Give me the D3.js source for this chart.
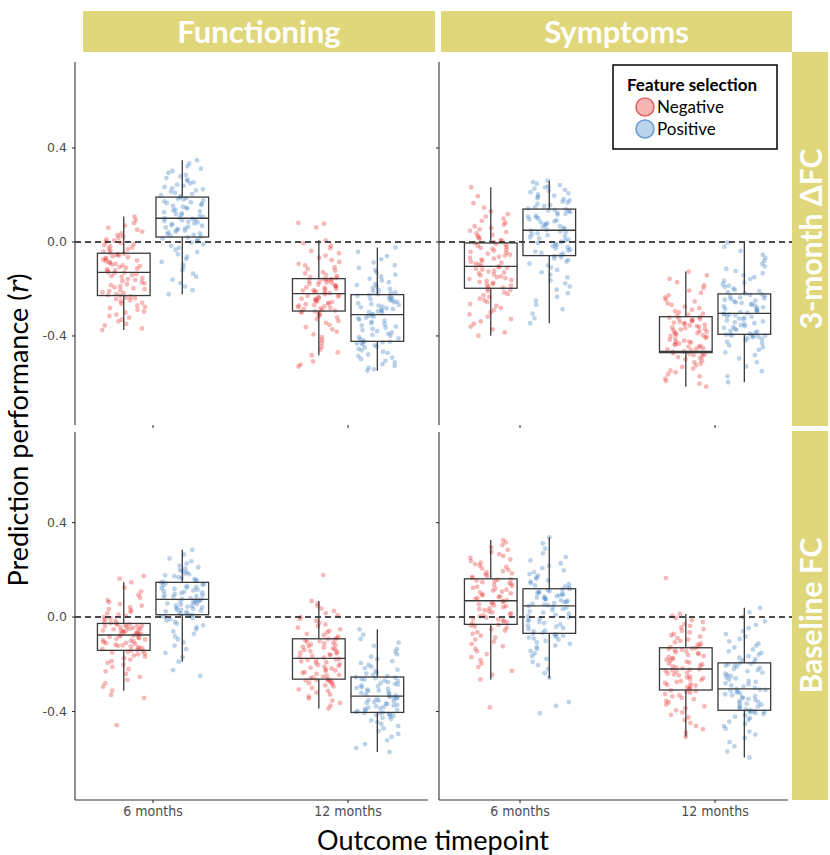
<!DOCTYPE html>
<html>
<head>
<meta charset="utf-8">
<script src="https://cdn.jsdelivr.net/npm/d3@7"></script>
<style>
  body { margin: 0; background: #fff; }
  svg { display: block; }
</style>
</head>
<body>
<svg id="chart" width="830" height="855"></svg>
<script>
// Facets, categories and ticks
const outcomes = ["Functioning", "Symptoms"];
const fcTypes = ["3-month ΔFC", "Baseline FC"];
const timepoints = ["6 months", "12 months"];
const selections = ["Negative", "Positive"];
const yTicks = [-0.4, 0.0, 0.4];

// Box statistics, one entry per group, ordered fcType > outcome > timepoint > selection
const boxLower  = [-0.375, -0.223, -0.482, -0.548,  -0.399, -0.346, -0.616, -0.597,
                   -0.312, -0.189, -0.387, -0.572,  -0.264, -0.258, -0.507, -0.595];
const boxQ1     = [-0.228,  0.021, -0.294, -0.423,  -0.197, -0.058, -0.471, -0.393,
                   -0.141,  0.010, -0.263, -0.404,  -0.031, -0.069, -0.309, -0.395];
const boxMedian = [-0.129,  0.101, -0.220, -0.309,  -0.104,  0.050, -0.466, -0.304,
                   -0.076,  0.075, -0.175, -0.335,   0.069,  0.047, -0.220, -0.304];
const boxQ3     = [-0.048,  0.191, -0.156, -0.224,  -0.004,  0.140, -0.318, -0.221,
                   -0.027,  0.147, -0.092, -0.254,   0.162,  0.120, -0.130, -0.194];
const boxUpper  = [ 0.108,  0.348,  0.007, -0.023,   0.233,  0.261, -0.126, -0.003,
                    0.147,  0.285,  0.068, -0.052,   0.326,  0.338,  0.013,  0.039];

// Per-iteration prediction performance (r)
const chgFun6Neg = [-0.375,-0.368,-0.355,-0.349,-0.338,-0.331,-0.322,-0.315,-0.309,-0.301,-0.296,-0.288,-0.281,-0.276,-0.27,-0.263,-0.259,-0.252,-0.248,-0.243,-0.239,-0.236,-0.232,-0.229,
  -0.226,-0.222,-0.218,-0.214,-0.209,-0.205,-0.201,-0.197,-0.193,-0.188,-0.184,-0.18,-0.176,-0.171,-0.167,-0.162,-0.158,-0.154,-0.149,-0.145,-0.141,-0.137,-0.133,-0.13,
  -0.128,-0.124,-0.121,-0.117,-0.114,-0.11,-0.107,-0.103,-0.1,-0.096,-0.093,-0.089,-0.086,-0.082,-0.079,-0.075,-0.072,-0.068,-0.065,-0.061,-0.058,-0.055,-0.052,-0.049,
  -0.046,-0.041,-0.037,-0.032,-0.028,-0.023,-0.018,-0.013,-0.009,-0.004,0.001,0.006,0.011,0.017,0.023,0.029,0.036,0.044,0.052,0.061,0.07,0.08,0.094,0.108];
const chgFun6Pos = [-0.223,-0.205,-0.19,-0.175,-0.16,-0.148,-0.135,-0.12,-0.108,-0.095,-0.085,-0.073,-0.062,-0.052,-0.043,-0.034,-0.025,-0.017,-0.01,-0.003,0.004,0.01,0.015,0.019,
  0.023,0.027,0.03,0.034,0.037,0.041,0.044,0.048,0.051,0.055,0.058,0.062,0.065,0.069,0.072,0.076,0.079,0.083,0.086,0.089,0.092,0.095,0.098,0.1,
  0.103,0.107,0.111,0.115,0.119,0.122,0.126,0.13,0.134,0.138,0.142,0.146,0.15,0.154,0.158,0.162,0.165,0.169,0.173,0.177,0.181,0.184,0.187,0.19,
  0.194,0.199,0.204,0.209,0.214,0.219,0.224,0.229,0.234,0.239,0.244,0.249,0.254,0.26,0.266,0.272,0.279,0.286,0.294,0.302,0.312,0.322,0.334,0.348];
const chgFun12Neg = [-0.53,-0.522,-0.508,-0.482,-0.47,-0.458,-0.445,-0.43,-0.418,-0.405,-0.393,-0.382,-0.372,-0.362,-0.353,-0.344,-0.336,-0.328,-0.321,-0.315,-0.309,-0.304,-0.3,-0.297,-0.295,
  -0.292,-0.289,-0.286,-0.283,-0.28,-0.277,-0.274,-0.271,-0.268,-0.265,-0.262,-0.259,-0.256,-0.253,-0.25,-0.247,-0.244,-0.241,-0.238,-0.235,-0.232,-0.229,-0.226,-0.222,
  -0.218,-0.215,-0.213,-0.21,-0.207,-0.205,-0.202,-0.199,-0.196,-0.193,-0.19,-0.187,-0.184,-0.181,-0.178,-0.175,-0.172,-0.169,-0.166,-0.163,-0.161,-0.159,-0.158,-0.157,
  -0.154,-0.15,-0.145,-0.14,-0.134,-0.128,-0.122,-0.115,-0.108,-0.1,-0.093,-0.085,-0.077,-0.068,-0.058,-0.048,-0.038,-0.027,-0.016,-0.005,0.007,0.062,0.078,0.081];
const chgFun12Pos = [-0.548,-0.542,-0.535,-0.528,-0.52,-0.513,-0.506,-0.499,-0.492,-0.486,-0.479,-0.473,-0.467,-0.461,-0.455,-0.45,-0.445,-0.44,-0.436,-0.432,-0.429,-0.427,-0.425,-0.424,
  -0.42,-0.415,-0.41,-0.405,-0.4,-0.395,-0.39,-0.385,-0.38,-0.375,-0.37,-0.365,-0.36,-0.355,-0.35,-0.345,-0.34,-0.335,-0.33,-0.326,-0.322,-0.318,-0.314,-0.311,
  -0.307,-0.303,-0.299,-0.296,-0.292,-0.289,-0.285,-0.282,-0.278,-0.275,-0.271,-0.268,-0.264,-0.261,-0.257,-0.254,-0.25,-0.247,-0.243,-0.24,-0.236,-0.232,-0.229,-0.226,
  -0.222,-0.218,-0.214,-0.21,-0.205,-0.2,-0.195,-0.19,-0.184,-0.178,-0.171,-0.164,-0.156,-0.148,-0.139,-0.13,-0.12,-0.11,-0.099,-0.087,-0.074,-0.06,-0.042,-0.023];
const chgSym6Neg = [-0.399,-0.385,-0.372,-0.36,-0.349,-0.338,-0.328,-0.318,-0.308,-0.299,-0.29,-0.281,-0.272,-0.264,-0.256,-0.248,-0.241,-0.234,-0.227,-0.221,-0.215,-0.209,-0.204,-0.199,
  -0.194,-0.19,-0.186,-0.182,-0.178,-0.174,-0.17,-0.166,-0.162,-0.158,-0.154,-0.15,-0.146,-0.142,-0.138,-0.134,-0.13,-0.126,-0.122,-0.118,-0.114,-0.11,-0.107,-0.105,
  -0.1,-0.096,-0.092,-0.088,-0.084,-0.08,-0.075,-0.071,-0.067,-0.063,-0.058,-0.054,-0.05,-0.046,-0.042,-0.037,-0.033,-0.029,-0.025,-0.021,-0.016,-0.012,-0.008,-0.005,
  -0.001,0.004,0.009,0.014,0.019,0.024,0.03,0.036,0.042,0.048,0.054,0.06,0.067,0.074,0.082,0.09,0.099,0.108,0.118,0.13,0.146,0.165,0.195,0.233];
const chgSym6Pos = [-0.346,-0.325,-0.305,-0.286,-0.268,-0.25,-0.234,-0.218,-0.203,-0.189,-0.176,-0.163,-0.151,-0.14,-0.129,-0.119,-0.109,-0.1,-0.092,-0.084,-0.077,-0.07,-0.065,-0.06,
  -0.055,-0.05,-0.046,-0.041,-0.036,-0.032,-0.027,-0.022,-0.018,-0.013,-0.008,-0.004,0.001,0.006,0.01,0.015,0.02,0.024,0.029,0.033,0.037,0.041,0.045,0.048,
  0.052,0.056,0.06,0.064,0.068,0.072,0.076,0.08,0.084,0.088,0.092,0.096,0.1,0.104,0.108,0.112,0.116,0.12,0.124,0.128,0.131,0.134,0.137,0.139,
  0.142,0.147,0.152,0.157,0.162,0.167,0.172,0.177,0.182,0.187,0.192,0.197,0.202,0.207,0.212,0.217,0.222,0.227,0.232,0.237,0.242,0.248,0.255,0.261];
const chgSym12Neg = [-0.616,-0.603,-0.592,-0.582,-0.572,-0.563,-0.555,-0.547,-0.539,-0.532,-0.525,-0.518,-0.512,-0.506,-0.5,-0.495,-0.49,-0.486,-0.482,-0.479,-0.476,-0.474,-0.473,
  -0.468,-0.462,-0.457,-0.452,-0.447,-0.442,-0.437,-0.433,-0.428,-0.424,-0.42,-0.416,-0.412,-0.408,-0.404,-0.4,-0.397,-0.394,-0.391,-0.388,-0.385,-0.382,-0.379,-0.376,
  -0.373,-0.37,-0.367,-0.364,-0.361,-0.358,-0.355,-0.352,-0.349,-0.346,-0.343,-0.34,-0.337,-0.334,-0.331,-0.328,-0.325,-0.322,-0.32,-0.466,-0.455,-0.445,-0.435,-0.425,
  -0.315,-0.31,-0.305,-0.3,-0.294,-0.288,-0.282,-0.275,-0.268,-0.261,-0.253,-0.245,-0.236,-0.227,-0.217,-0.207,-0.196,-0.184,-0.171,-0.157,-0.142,-0.126];
const chgSym12Pos = [-0.597,-0.572,-0.55,-0.53,-0.512,-0.496,-0.482,-0.47,-0.459,-0.449,-0.44,-0.432,-0.425,-0.419,-0.414,-0.41,-0.406,-0.403,-0.4,-0.398,-0.397,-0.396,-0.395,-0.394,
  -0.39,-0.386,-0.382,-0.378,-0.374,-0.37,-0.366,-0.362,-0.358,-0.354,-0.35,-0.346,-0.342,-0.338,-0.334,-0.33,-0.326,-0.322,-0.318,-0.315,-0.312,-0.309,-0.307,-0.305,
  -0.302,-0.299,-0.295,-0.292,-0.288,-0.285,-0.281,-0.278,-0.274,-0.271,-0.267,-0.264,-0.26,-0.257,-0.253,-0.25,-0.246,-0.243,-0.239,-0.236,-0.232,-0.229,-0.226,-0.223,
  -0.219,-0.214,-0.209,-0.204,-0.198,-0.192,-0.186,-0.18,-0.173,-0.166,-0.158,-0.15,-0.142,-0.133,-0.124,-0.114,-0.104,-0.093,-0.081,-0.068,-0.054,-0.038,-0.02,-0.003];
const baseFun6Neg = [-0.458,-0.342,-0.33,-0.312,-0.295,-0.28,-0.266,-0.253,-0.241,-0.23,-0.22,-0.211,-0.202,-0.194,-0.187,-0.18,-0.174,-0.168,-0.163,-0.158,-0.154,-0.15,-0.147,-0.144,-0.142,
  -0.139,-0.136,-0.133,-0.131,-0.128,-0.125,-0.122,-0.12,-0.117,-0.114,-0.111,-0.109,-0.106,-0.103,-0.1,-0.098,-0.095,-0.092,-0.089,-0.087,-0.084,-0.081,-0.079,-0.077,
  -0.074,-0.072,-0.07,-0.068,-0.066,-0.064,-0.062,-0.06,-0.058,-0.056,-0.054,-0.052,-0.05,-0.048,-0.046,-0.044,-0.042,-0.04,-0.038,-0.036,-0.034,-0.032,-0.03,-0.028,
  -0.025,-0.02,-0.015,-0.01,-0.005,0.0,0.005,0.01,0.016,0.022,0.028,0.034,0.041,0.048,0.055,0.063,0.072,0.082,0.094,0.108,0.125,0.147,0.163,0.174];
const baseFun6Pos = [-0.249,-0.225,-0.189,-0.17,-0.152,-0.136,-0.121,-0.107,-0.094,-0.082,-0.071,-0.061,-0.052,-0.043,-0.035,-0.028,-0.021,-0.015,-0.009,-0.004,0.0,0.004,0.007,0.009,
  0.012,0.015,0.018,0.021,0.024,0.027,0.029,0.032,0.035,0.038,0.041,0.044,0.046,0.049,0.052,0.055,0.058,0.061,0.063,0.066,0.068,0.07,0.072,0.074,
  0.077,0.08,0.083,0.086,0.089,0.092,0.095,0.098,0.101,0.104,0.107,0.11,0.113,0.116,0.119,0.122,0.125,0.128,0.131,0.134,0.137,0.14,0.143,0.146,
  0.149,0.153,0.157,0.161,0.165,0.169,0.173,0.177,0.181,0.185,0.19,0.195,0.2,0.205,0.211,0.218,0.226,0.236,0.248,0.265,0.285];
const baseFun12Neg = [-0.387,-0.375,-0.364,-0.354,-0.345,-0.336,-0.328,-0.32,-0.313,-0.306,-0.3,-0.294,-0.289,-0.284,-0.28,-0.276,-0.273,-0.27,-0.268,-0.266,-0.265,-0.264,
  -0.26,-0.256,-0.252,-0.248,-0.245,-0.241,-0.237,-0.233,-0.229,-0.226,-0.222,-0.218,-0.214,-0.21,-0.207,-0.203,-0.199,-0.195,-0.191,-0.188,-0.184,-0.181,-0.179,-0.177,
  -0.172,-0.168,-0.165,-0.161,-0.158,-0.154,-0.151,-0.147,-0.144,-0.14,-0.137,-0.133,-0.13,-0.126,-0.123,-0.119,-0.116,-0.112,-0.109,-0.105,-0.102,-0.098,-0.095,-0.093,
  -0.088,-0.083,-0.077,-0.071,-0.065,-0.059,-0.052,-0.045,-0.038,-0.031,-0.024,-0.016,-0.008,0.0,0.008,0.017,0.026,0.036,0.046,0.057,0.068,0.178];
const baseFun12Pos = [-0.572,-0.555,-0.538,-0.522,-0.508,-0.495,-0.483,-0.472,-0.462,-0.453,-0.445,-0.438,-0.432,-0.427,-0.422,-0.418,-0.415,-0.412,-0.41,-0.408,-0.406,-0.405,
  -0.402,-0.399,-0.396,-0.393,-0.39,-0.387,-0.384,-0.381,-0.378,-0.375,-0.372,-0.369,-0.366,-0.363,-0.36,-0.357,-0.354,-0.351,-0.348,-0.345,-0.342,-0.34,-0.338,-0.336,
  -0.332,-0.328,-0.325,-0.321,-0.318,-0.314,-0.311,-0.307,-0.304,-0.3,-0.297,-0.293,-0.29,-0.286,-0.283,-0.279,-0.276,-0.272,-0.269,-0.265,-0.262,-0.259,-0.257,-0.255,
  -0.25,-0.245,-0.24,-0.235,-0.229,-0.223,-0.217,-0.21,-0.203,-0.195,-0.187,-0.178,-0.168,-0.158,-0.147,-0.135,-0.122,-0.108,-0.093,-0.074,-0.052];
const baseSym6Neg = [-0.383,-0.264,-0.245,-0.228,-0.212,-0.197,-0.183,-0.17,-0.157,-0.145,-0.134,-0.124,-0.114,-0.104,-0.095,-0.087,-0.079,-0.071,-0.064,-0.057,-0.051,-0.045,-0.04,-0.036,-0.033,
  -0.027,-0.023,-0.019,-0.014,-0.01,-0.006,-0.002,0.003,0.007,0.011,0.016,0.02,0.024,0.029,0.033,0.037,0.042,0.046,0.05,0.054,0.058,0.062,0.065,0.067,
  0.072,0.076,0.08,0.084,0.088,0.092,0.096,0.1,0.104,0.108,0.112,0.116,0.12,0.124,0.128,0.132,0.136,0.14,0.144,0.148,0.152,0.155,0.158,0.16,
  0.165,0.17,0.175,0.18,0.185,0.19,0.195,0.2,0.206,0.212,0.218,0.224,0.23,0.237,0.244,0.251,0.259,0.267,0.276,0.285,0.295,0.305,0.316,0.326];
const baseSym6Pos = [-0.407,-0.376,-0.36,-0.258,-0.238,-0.22,-0.204,-0.19,-0.177,-0.165,-0.154,-0.144,-0.135,-0.127,-0.12,-0.113,-0.107,-0.101,-0.096,-0.091,-0.087,-0.083,-0.079,-0.076,-0.073,-0.071,
  -0.066,-0.061,-0.056,-0.051,-0.046,-0.041,-0.036,-0.031,-0.026,-0.021,-0.016,-0.011,-0.006,-0.001,0.004,0.009,0.014,0.019,0.024,0.029,0.034,0.039,0.043,0.046,
  0.05,0.053,0.056,0.059,0.062,0.065,0.068,0.071,0.074,0.077,0.08,0.083,0.086,0.089,0.092,0.095,0.098,0.101,0.104,0.107,0.11,0.113,0.116,0.119,
  0.124,0.129,0.134,0.139,0.144,0.15,0.156,0.162,0.168,0.175,0.182,0.19,0.198,0.207,0.217,0.228,0.24,0.254,0.27,0.29,0.312,0.338];
const baseSym12Neg = [-0.507,-0.49,-0.475,-0.461,-0.448,-0.436,-0.425,-0.414,-0.404,-0.395,-0.386,-0.378,-0.37,-0.362,-0.355,-0.348,-0.342,-0.336,-0.331,-0.326,-0.321,-0.317,-0.313,-0.311,
  -0.306,-0.302,-0.298,-0.294,-0.29,-0.287,-0.283,-0.279,-0.275,-0.271,-0.267,-0.263,-0.259,-0.255,-0.251,-0.247,-0.243,-0.239,-0.235,-0.231,-0.228,-0.225,-0.223,-0.221,
  -0.217,-0.213,-0.209,-0.205,-0.201,-0.197,-0.193,-0.189,-0.185,-0.181,-0.177,-0.173,-0.169,-0.165,-0.161,-0.157,-0.153,-0.149,-0.145,-0.141,-0.138,-0.135,-0.133,-0.131,
  -0.127,-0.122,-0.117,-0.112,-0.107,-0.101,-0.095,-0.089,-0.083,-0.077,-0.071,-0.065,-0.058,-0.051,-0.044,-0.037,-0.029,-0.021,-0.013,-0.004,0.005,0.013,0.165];
const baseSym12Pos = [-0.595,-0.57,-0.548,-0.53,-0.513,-0.498,-0.485,-0.473,-0.462,-0.452,-0.443,-0.435,-0.428,-0.422,-0.416,-0.411,-0.407,-0.404,-0.401,-0.399,-0.397,-0.396,
  -0.391,-0.387,-0.383,-0.379,-0.375,-0.371,-0.367,-0.363,-0.359,-0.355,-0.351,-0.347,-0.343,-0.339,-0.335,-0.331,-0.327,-0.323,-0.319,-0.315,-0.312,-0.309,-0.307,-0.305,
  -0.3,-0.295,-0.29,-0.285,-0.28,-0.275,-0.27,-0.265,-0.26,-0.255,-0.25,-0.245,-0.24,-0.235,-0.23,-0.225,-0.22,-0.215,-0.21,-0.206,-0.202,-0.199,-0.197,-0.195,
  -0.19,-0.184,-0.178,-0.172,-0.166,-0.159,-0.152,-0.145,-0.137,-0.129,-0.121,-0.112,-0.103,-0.093,-0.083,-0.072,-0.06,-0.047,-0.033,-0.018,0.0,0.02,0.039];

const groupValues = [
  chgFun6Neg, chgFun6Pos, chgFun12Neg, chgFun12Pos,
  chgSym6Neg, chgSym6Pos, chgSym12Neg, chgSym12Pos,
  baseFun6Neg, baseFun6Pos, baseFun12Neg, baseFun12Pos,
  baseSym6Neg, baseSym6Pos, baseSym12Neg, baseSym12Pos
];

// ---------- layout ----------
const svg = d3.select("#chart");
const stripColor = "#dfd77a";
const pointColor = d3.scaleOrdinal().domain(selections).range(["#e8302f", "#3f7fc0"]);
const legendFill = { Negative: "#f5b5b5", Positive: "#bed4ea" };
const legendStroke = { Negative: "#e46565", Positive: "#6b9fd1" };

const colRange = [[75, 430], [442, 797]];   // x pixel range for each column's scale
const colAxisX = [75, 439];
const colRight = [432, 792];
const rowRange = [[62, 425], [432, 800]];
const rowDomain = [[-0.779, 0.766], [-0.775, 0.784]];

const tpScale = d3.scalePoint().domain(timepoints).range([1, 2]);
const dodge = d3.scaleOrdinal().domain(selections).range([-0.15, 0.15]);
const boxHalf = 0.135, jitterHalf = 0.11;

// horizontal jitter: deterministic scatter in [-0.5, 0.5) for point i of group g
const jitter = (i, g) => {
  const s = Math.sin(i * 12.9898 + g * 78.233) * 43758.5453;
  return s - Math.floor(s) - 0.5;
};

const fmt = v => d3.format(".1f")(v).replace("−", "-");

// strips along the top
outcomes.forEach((o, c) => {
  const x0 = c === 0 ? 83 : 441, x1 = c === 0 ? 435 : 792;
  svg.append("rect").attr("x", x0).attr("y", 11).attr("width", x1 - x0).attr("height", 41).attr("fill", stripColor);
  svg.append("text").attr("x", (x0 + x1) / 2).attr("y", 32).attr("dy", "0.36em")
    .attr("text-anchor", "middle").attr("fill", "#fff")
    .style("font", "bold 31px Lato, 'Open Sans', sans-serif").text(o);
});
// strips along the right
fcTypes.forEach((f, r) => {
  const y0 = r === 0 ? 52 : 431, y1 = r === 0 ? 426 : 800;
  svg.append("rect").attr("x", 792).attr("y", y0).attr("width", 36).attr("height", y1 - y0).attr("fill", stripColor);
  svg.append("text").attr("transform", `translate(811,${(y0 + y1) / 2}) rotate(-90)`)
    .attr("dy", "0.36em").attr("text-anchor", "middle").attr("fill", "#fff")
    .style("font", "bold 30px Lato, 'Open Sans', sans-serif").text(f);
});

fcTypes.forEach((f, r) => {
  const y = d3.scaleLinear().domain(rowDomain[r]).range([rowRange[r][1], rowRange[r][0]]);
  outcomes.forEach((o, c) => {
    const x = d3.scaleLinear().domain([0.6, 2.42]).range(colRange[c]);
    const g = svg.append("g");

    // points
    timepoints.forEach((t, ti) => {
      selections.forEach((s, si) => {
        const gi = r * 8 + c * 4 + ti * 2 + si;
        const cx = tpScale(t) + dodge(s);
        g.append("g").selectAll("circle").data(groupValues[gi]).join("circle")
          .attr("cx", (d, i) => x(cx + jitterHalf * 2 * jitter(i, gi)))
          .attr("cy", d => y(d))
          .attr("r", 2.4)
          .attr("fill", pointColor(s))
          .attr("fill-opacity", 0.34);
      });
    });

    // reference line at r = 0
    g.append("line").attr("x1", colAxisX[c]).attr("x2", colRight[c])
      .attr("y1", y(0)).attr("y2", y(0))
      .attr("stroke", "#111").attr("stroke-width", 1.4).attr("stroke-dasharray", "6,4");

    // boxes
    timepoints.forEach((t, ti) => {
      selections.forEach((s, si) => {
        const gi = r * 8 + c * 4 + ti * 2 + si;
        const cx = tpScale(t) + dodge(s);
        const bx = x(cx - boxHalf), bw = x(cx + boxHalf) - x(cx - boxHalf);
        const bg = g.append("g").attr("stroke", "#3a3a3a").attr("stroke-width", 1.3).attr("fill", "none");
        bg.append("line").attr("x1", x(cx)).attr("x2", x(cx)).attr("y1", y(boxUpper[gi])).attr("y2", y(boxQ3[gi]));
        bg.append("line").attr("x1", x(cx)).attr("x2", x(cx)).attr("y1", y(boxQ1[gi])).attr("y2", y(boxLower[gi]));
        bg.append("rect").attr("x", bx).attr("width", bw)
          .attr("y", y(boxQ3[gi])).attr("height", y(boxQ1[gi]) - y(boxQ3[gi]));
        bg.append("line").attr("x1", bx).attr("x2", bx + bw).attr("y1", y(boxMedian[gi])).attr("y2", y(boxMedian[gi]));
      });
    });

    // y axis
    g.append("line").attr("x1", colAxisX[c]).attr("x2", colAxisX[c])
      .attr("y1", rowRange[r][0]).attr("y2", rowRange[r][1]).attr("stroke", "#333").attr("stroke-width", 1.1);
    yTicks.forEach(v => {
      g.append("line").attr("x1", colAxisX[c] - 3).attr("x2", colAxisX[c])
        .attr("y1", y(v)).attr("y2", y(v)).attr("stroke", "#333").attr("stroke-width", 1.1);
      if (c === 0) {
        g.append("text").attr("x", colAxisX[c] - 8).attr("y", y(v)).attr("dy", "0.35em")
          .attr("text-anchor", "end").attr("fill", "#4d4d4d")
          .style("font", "12.5px 'DejaVu Sans', sans-serif").text(fmt(v));
      }
    });

    // x axis
    if (r === 1) {
      g.append("line").attr("x1", colAxisX[c]).attr("x2", colRight[c] - 4)
        .attr("y1", rowRange[r][1]).attr("y2", rowRange[r][1]).attr("stroke", "#333").attr("stroke-width", 1.1);
    }
    timepoints.forEach(t => {
      g.append("line").attr("x1", x(tpScale(t))).attr("x2", x(tpScale(t)))
        .attr("y1", rowRange[r][1]).attr("y2", rowRange[r][1] + 3).attr("stroke", "#333").attr("stroke-width", 1.1);
      if (r === 1) {
        g.append("text").attr("x", x(tpScale(t))).attr("y", rowRange[r][1] + 11).attr("dy", "0.35em")
          .attr("text-anchor", "middle").attr("fill", "#4d4d4d")
          .style("font", "14px 'DejaVu Sans Condensed', 'DejaVu Sans', sans-serif").text(t);
      }
    });
  });
});

// axis titles
svg.append("text").attr("x", 433).attr("y", 841).attr("dy", "0.35em").attr("text-anchor", "middle")
  .attr("fill", "#000").style("font", "27px Lato, 'Open Sans', sans-serif").text("Outcome timepoint");
const yt = svg.append("text").attr("transform", "translate(19,430) rotate(-90)").attr("dy", "0.35em")
  .attr("text-anchor", "middle").attr("fill", "#000").style("font", "27px Lato, 'Open Sans', sans-serif");
yt.append("tspan").text("Prediction performance (");
yt.append("tspan").style("font-style", "italic").style("font-family", "'DejaVu Serif', serif").text("r");
yt.append("tspan").text(")");

// legend
const lg = svg.append("g");
lg.append("rect").attr("x", 613).attr("y", 65).attr("width", 164).attr("height", 84)
  .attr("fill", "#fff").attr("stroke", "#000").attr("stroke-width", 1.5);
lg.append("text").attr("x", 692).attr("y", 85).attr("dy", "0.35em").attr("text-anchor", "middle")
  .style("font", "bold 17px Lato, 'Open Sans', sans-serif").text("Feature selection");
selections.forEach((s, i) => {
  const cy = 107 + i * 22;
  lg.append("circle").attr("cx", 645).attr("cy", cy).attr("r", 9)
    .attr("fill", legendFill[s]).attr("stroke", legendStroke[s]).attr("stroke-width", 1.6);
  lg.append("text").attr("x", 657).attr("y", cy).attr("dy", "0.35em")
    .style("font", "17px Lato, 'Open Sans', sans-serif").text(s);
});
</script>
</body>
</html>
